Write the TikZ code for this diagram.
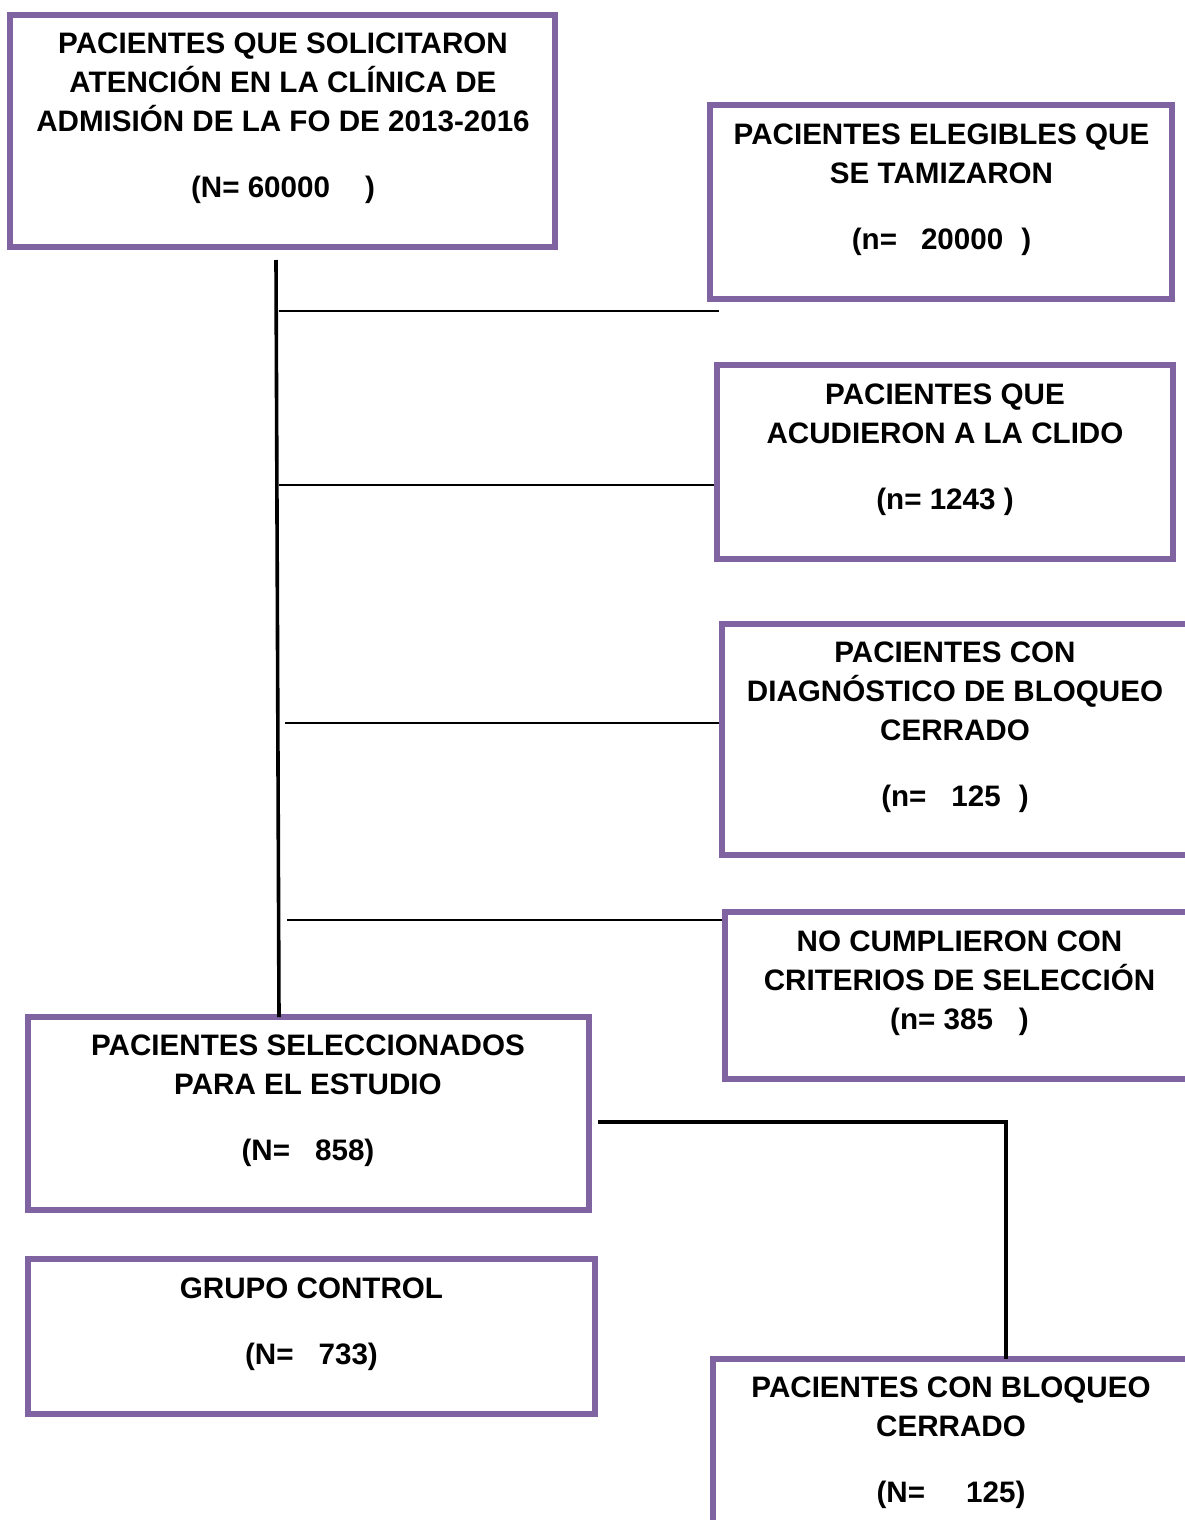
\documentclass[tikz,border=0pt]{standalone}
\usepackage{fontspec}
\setmainfont{Liberation Sans}
\usetikzlibrary{fit}
\definecolor{boxpurple}{HTML}{8064A2}
\begin{document}
\begin{tikzpicture}[x=0.5pt,y=-0.5pt,
  box/.style={draw=boxpurple, line width=3.2pt, inner sep=0pt},
  txt/.style={font=\bfseries\fontsize{14.8}{19.5}\selectfont, align=center, inner sep=0pt},
  thinline/.style={line width=0.8pt, black},
  thickline/.style={line width=1.8pt, black}]
\useasboundingbox (0,0) rectangle (1184,1520);
% boxes
\node[box, fit={(10,15)(555,247)}] (b1) {};
\node[box, fit={(710,105)(1172,299)}] (b2) {};
\node[box, fit={(717,365)(1173,559)}] (b3) {};
\node[box, fit={(722,624)(1200,855)}] (b4) {};
\node[box, fit={(725,912)(1200,1079)}] (b5) {};
\node[box, fit={(28,1017)(589,1210)}] (b6) {};
\node[box, fit={(28,1259)(595,1414)}] (b7) {};
\node[box, fit={(713,1359)(1200,1560)}] (b8) {};
% texts
\node[txt] (t1) at (283,118.5) {PACIENTES QUE SOLICITARON\\ATENCIÓN EN LA CLÍNICA DE\\ADMISIÓN DE LA FO DE 2013-2016\\[13.5pt](N= 60000\hspace{17.5pt})};
\node[txt] (t2) at (941.5,190) {PACIENTES ELEGIBLES QUE\\SE TAMIZARON\\[13.5pt](n=\hspace{12pt}20000\hspace{9pt})};
\node[txt] (t3) at (945,449.5) {PACIENTES QUE\\ACUDIERON A LA CLIDO\\[13.5pt](n= 1243 )};
\node[txt] (t4) at (955,727.5) {PACIENTES CON\\DIAGNÓSTICO DE BLOQUEO\\CERRADO\\[13.5pt](n=\hspace{12.5pt}125\hspace{9pt})};
\node[txt] (t5) at (959.5,983) {NO CUMPLIERON CON\\CRITERIOS DE SELECCIÓN\\(n= 385\hspace{13pt})};
\node[txt] (t6) at (308,1101) {PACIENTES SELECCIONADOS\\PARA EL ESTUDIO\\[13.5pt](N=\hspace{12.5pt}858)};
\node[txt] (t7) at (311.5,1324) {GRUPO CONTROL\\[13.5pt](N=\hspace{12.5pt}733)};
\node[txt] (t8) at (951,1443) {PACIENTES CON BLOQUEO\\CERRADO\\[13.5pt](N=\hspace{20.5pt}125)};
% trunk
\coordinate (trTop) at (276,260);
\coordinate (trBot) at (279,1017);
\draw[thickline] (trTop) -- (trBot);
% branches
\coordinate (j1) at (279,311);
\coordinate (e1) at (719,311);
\draw[thinline] (j1) -- (e1);
\coordinate (j2) at (279,485);
\draw[thinline] (j2) -- (j2 -| b3.west);
\coordinate (j3) at (285,723);
\draw[thinline] (j3) -- (j3 -| b4.west);
\coordinate (j4) at (287,920);
\draw[thinline] (j4) -- (j4 -| b5.west);
% elbow
\coordinate (e6) at (598,1122);
\coordinate (k8) at (1006,1359);
\draw[thickline] (e6) -| (k8);
\end{tikzpicture}
\end{document}
